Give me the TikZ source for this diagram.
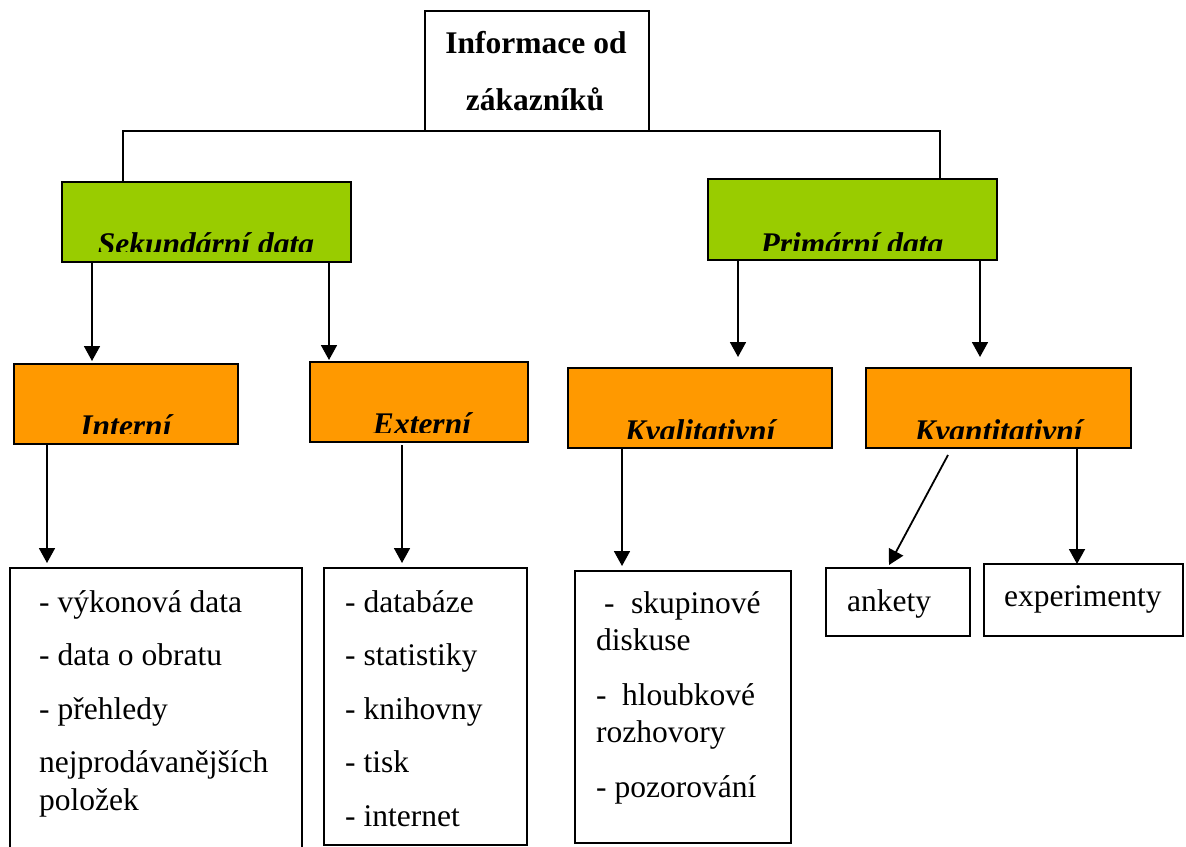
\documentclass[tikz,border=0pt]{standalone}
\usepackage{fontspec}
\setmainfont{Liberation Serif}
\usetikzlibrary{arrows.meta,calc}
\definecolor{lgreen}{HTML}{99CC00}
\definecolor{lorange}{HTML}{FF9900}
\tikzset{
  box/.style={draw, line width=1.8pt, inner sep=0pt, outer sep=0pt, anchor=north west},
  gbox/.style={box, fill=lgreen},
  obox/.style={box, fill=lorange},
  conn/.style={line width=1.8pt},
  arr/.style={line width=1.8pt, -{Triangle[width=16pt,length=15pt]}},
  txt/.style={anchor=base west, inner sep=0pt, font=\fontsize{31.5}{38}\selectfont},
  head/.style={anchor=base, inner sep=0pt, font=\fontsize{31.5}{38}\selectfont\bfseries\itshape},
  ttl/.style={anchor=base, inner sep=0pt, font=\fontsize{31.5}{38}\selectfont\bfseries}
}
\begin{document}
\begin{tikzpicture}[x=1pt,y=-1pt]
\useasboundingbox (0,0) rectangle (1186,846);
\clip (0,0) rectangle (1186,846);
% top
\node[box, minimum width=224pt, minimum height=120pt] (top) at (425,11) {};
\node[ttl] (t1) at (536,53) {Informace od};
\node[ttl] (t2) at (535,110) {zákazníků};
% green
\node[gbox, minimum width=289pt, minimum height=80pt] (sek) at (62,182) {};
\node[gbox, minimum width=289pt, minimum height=81pt] (prim) at (708,179) {};
\begin{scope}\clip (63,183) rectangle (350,251.5);
\node[head] (sekt) at (206,254) {Sekundární data};\end{scope}
\begin{scope}\clip (709,180) rectangle (996,250);
\node[head] (primt) at (852,254) {Primární data};\end{scope}
% orange
\node[obox, minimum width=224pt, minimum height=80pt] (int) at (14,364) {};
\node[obox, minimum width=218pt, minimum height=80pt] (ext) at (310,362) {};
\node[obox, minimum width=264pt, minimum height=80pt] (kval) at (568,368) {};
\node[obox, minimum width=265pt, minimum height=80pt] (kvant) at (866,368) {};
\begin{scope}\clip (15,365) rectangle (237,433);
\node[head] (intt) at (126,436) {Interní};\end{scope}
\begin{scope}\clip (311,363) rectangle (527,432);
\node[head] (extt) at (422,434) {Externí};\end{scope}
\begin{scope}\clip (569,369) rectangle (831,438);
\node[head] (kvalt) at (700,441) {Kvalitativní};\end{scope}
\begin{scope}\clip (867,369) rectangle (1130,438);
\node[head] (kvantt) at (998.5,441) {Kvantitativní};\end{scope}
% bottom boxes
\node[box, minimum width=292pt, minimum height=300pt] (b1) at (10,568) {};
\node[box, minimum width=203pt, minimum height=277pt] (b2) at (324,568) {};
\node[box, minimum width=216pt, minimum height=272pt] (b3) at (575,571) {};
\node[box, minimum width=144pt, minimum height=68pt] (ank) at (826,568) {};
\node[box, minimum width=199pt, minimum height=72pt] (exp) at (984,564) {};
% texts
\node[txt] (a1) at (39,612) {- výkonová data};
\node[txt] (a2) at (39,665.5) {- data o obratu};
\node[txt] (a3) at (39,719) {- přehledy};
\node[txt] (a4) at (39,772.5) {nejprodávanějších};
\node[txt] (a5) at (39,810.5) {položek};
\node[txt] (c1) at (345,612) {- databáze};
\node[txt] (c2) at (345,665.5) {- statistiky};
\node[txt] (c3) at (345,719) {- knihovny};
\node[txt] (c4) at (345,772.5) {- tisk};
\node[txt] (c5) at (345,826) {- internet};
\node[txt] (d1) at (604,613) {-\hspace{16.5pt}skupinové};
\node[txt] (d2) at (596,650) {diskuse};
\node[txt] (d3) at (596,705) {-\hspace{15.5pt}hloubkové};
\node[txt] (d4) at (596,742) {rozhovory};
\node[txt] (d5) at (596,797) {- pozorování};
\node[txt] (e1) at (847,611) {ankety};
\node[txt] (e2) at (1004,606) {experimenty};
% connectors
\draw[conn] (sek.north -| 123,0) |- (top.south) -| (prim.north -| 940,0);
\draw[arr, shorten >=3pt] (sek.south -| 92,0) -- (int.north -| 92,0);
\draw[arr, shorten >=2pt] (sek.south -| 329,0) -- (ext.north -| 329,0);
\draw[arr, shorten >=11pt] (prim.south -| 738,0) -- (kval.north -| 738,0);
\draw[arr, shorten >=11pt] (prim.south -| 980,0) -- (kvant.north -| 980,0);
\draw[arr, shorten >=5pt] (int.south -| 47,0) -- (b1.north -| 47,0);
\draw[arr, shorten >=5pt, shorten <=3pt] (ext.south -| 402,0) -- (b2.north -| 402,0);
\draw[arr, shorten >=5pt] (kval.south -| 622,0) -- (b3.north -| 622,0);
\draw[arr] ($(kvant.south west)+(82,7)$) -- ($(ank.north west)+(63,-3)$);
\draw[arr] (kvant.south -| 1077,0) -- (exp.north -| 1077,0);
\end{tikzpicture}
\end{document}
